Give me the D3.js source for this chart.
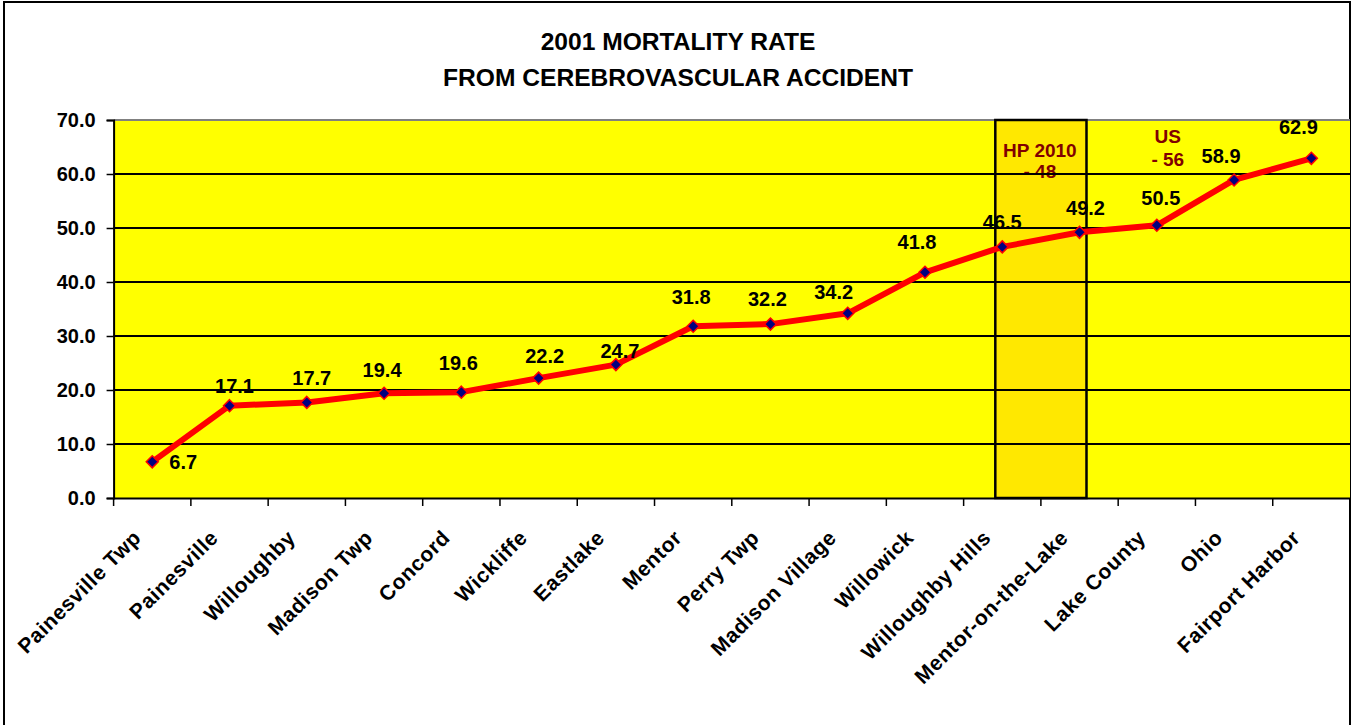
<!DOCTYPE html>
<html>
<head>
<meta charset="utf-8">
<script src="https://cdn.jsdelivr.net/npm/d3@7"></script>
<style>
  html, body { margin: 0; padding: 0; background: #ffffff; }
  svg { display: block; font-family: Arial, "Liberation Sans", sans-serif; }
</style>
</head>
<body>
<svg id="chart" width="1352" height="725"></svg>
<script>
// ---- data ----
const titleLines = ["2001 MORTALITY RATE", "FROM CEREBROVASCULAR ACCIDENT"];
const categories = ["Painesville Twp", "Painesville", "Willoughby", "Madison Twp", "Concord",
  "Wickliffe", "Eastlake", "Mentor", "Perry Twp", "Madison Village", "Willowick",
  "Willoughby Hills", "Mentor-on-the-Lake", "Lake County", "Ohio", "Fairport Harbor"];
const rates = [6.7, 17.1, 17.7, 19.4, 19.6, 22.2, 24.7, 31.8, 32.2, 34.2, 41.8, 46.5, 49.2, 50.5, 58.9, 62.9];
const yTicks = [0, 10, 20, 30, 40, 50, 60, 70];
const hpLabel = ["HP 2010", "- 48"];
const usLabel = ["US", "- 56"];

// ---- layout / style (not data) ----
const W = 1352, H = 725;
const plot = { left: 113.6, right: 1350, top: 120, bottom: 498 };
// manual label nudges [dx, dy(baseline from point)]
const labelNudge = [[31, 7], [5, -13], [5, -17], [-2, -16], [-3, -22], [6, -15], [4, -7], [-2, -22],
  [-3, -18], [-14, -14], [-8, -23], [0, -18], [6, -17], [4, -20], [-13, -17], [-13, -24]];

const svg = d3.select("#chart");

const x = d3.scaleBand().domain(categories).range([plot.left, plot.right]).padding(0);
const y = d3.scaleLinear().domain([0, 70]).range([plot.bottom, plot.top]);
const bw = x.bandwidth();
const cx = d => x(d) + bw / 2;

// outer border
svg.append("rect").attr("x", 4).attr("y", 2).attr("width", 1346).attr("height", 740)
  .attr("fill", "#ffffff").attr("stroke", "#000").attr("stroke-width", 2);

// title
svg.append("g").selectAll("text").data(titleLines).join("text")
  .attr("x", 678).attr("y", (d, i) => 50 + i * 36)
  .attr("text-anchor", "middle").attr("font-size", 24.6).attr("font-weight", "bold")
  .attr("fill", "#000").text(d => d);

// plot background
svg.append("rect").attr("x", plot.left).attr("y", plot.top)
  .attr("width", plot.right - plot.left).attr("height", plot.bottom - plot.top)
  .attr("fill", "#FFFF00");

// highlight box (HP 2010 target), centred on boundary between Willoughby Hills and Mentor-on-the-Lake
const boxCx = x(categories[12]);
const boxHalf = bw * 0.59;
svg.append("rect").attr("x", boxCx - boxHalf).attr("y", plot.top)
  .attr("width", boxHalf * 2).attr("height", plot.bottom - plot.top)
  .attr("fill", "#FFE800");

// annotation texts
svg.append("g").selectAll("text").data(hpLabel).join("text")
  .attr("x", boxCx - 1).attr("y", (d, i) => 157 + i * 21)
  .attr("text-anchor", "middle").attr("font-size", 19).attr("font-weight", "bold")
  .attr("fill", "#800000").text(d => d);
svg.append("g").selectAll("text").data(usLabel).join("text")
  .attr("x", cx(categories[13]) + 11).attr("y", (d, i) => 143 + i * 23)
  .attr("text-anchor", "middle").attr("font-size", 19).attr("font-weight", "bold")
  .attr("fill", "#800000").text(d => d);

// gridlines
svg.append("g").selectAll("line").data(yTicks.filter(t => t > 0 && t < 70)).join("line")
  .attr("x1", plot.left).attr("x2", plot.right)
  .attr("y1", d => y(d)).attr("y2", d => y(d))
  .attr("stroke", "#000").attr("stroke-width", 1.8);

// top plot border (gray)
svg.append("line").attr("x1", plot.left).attr("x2", plot.right)
  .attr("y1", plot.top).attr("y2", plot.top)
  .attr("stroke", "#808080").attr("stroke-width", 2);

// highlight box border
svg.append("rect").attr("x", boxCx - boxHalf).attr("y", plot.top)
  .attr("width", boxHalf * 2).attr("height", plot.bottom - plot.top)
  .attr("fill", "none").attr("stroke", "#000").attr("stroke-width", 2.5);

// y axis
const yAxis = svg.append("g").attr("transform", `translate(${plot.left},0)`)
  .call(d3.axisLeft(y).tickValues(yTicks).tickFormat(d3.format(".1f")).tickSize(7).tickPadding(11));
yAxis.select(".domain").attr("stroke", "#000").attr("stroke-width", 2);
yAxis.selectAll(".tick line").attr("stroke", "#000").attr("stroke-width", 1.5);
yAxis.selectAll(".tick text").attr("font-size", 20).attr("font-weight", "bold")
  .attr("fill", "#000").attr("font-family", "Arial, 'Liberation Sans', sans-serif");

// x axis
const xAxis = svg.append("g").attr("transform", `translate(0,${plot.bottom})`)
  .call(d3.axisBottom(x).tickSize(0).tickPadding(0));
xAxis.select(".domain").attr("stroke", "#000").attr("stroke-width", 2);
xAxis.selectAll(".tick text")
  .attr("font-size", 21).attr("font-weight", "bold").attr("fill", "#000")
  .attr("font-family", "Arial, 'Liberation Sans', sans-serif")
  .attr("letter-spacing", "0.6px")
  .attr("text-anchor", "end").attr("dy", 0).attr("y", 0)
  .attr("transform", "translate(-10,41) rotate(-45)");
// boundary tick marks
svg.append("g").selectAll("line").data(d3.range(categories.length + 1)).join("line")
  .attr("x1", i => plot.left + i * bw).attr("x2", i => plot.left + i * bw)
  .attr("y1", plot.bottom).attr("y2", plot.bottom + 8)
  .attr("stroke", "#000").attr("stroke-width", 1.5);

// line
const line = d3.line().x((d, i) => cx(categories[i])).y(d => y(d));
svg.append("path").datum(rates).attr("d", line)
  .attr("fill", "none").attr("stroke", "#FF0000").attr("stroke-width", 6)
  .attr("stroke-linejoin", "round");

// markers
svg.append("g").selectAll("path").data(rates).join("path")
  .attr("transform", (d, i) => `translate(${cx(categories[i])},${y(d)})`)
  .attr("d", "M0,-6L6,0L0,6L-6,0Z")
  .attr("fill", "#000080").attr("stroke", "#FF0000").attr("stroke-width", 1.5);

// data labels
svg.append("g").selectAll("text").data(rates).join("text")
  .attr("x", (d, i) => cx(categories[i]) + labelNudge[i][0])
  .attr("y", (d, i) => y(d) + labelNudge[i][1])
  .attr("text-anchor", "middle").attr("font-size", 20).attr("font-weight", "bold")
  .attr("fill", "#000").text(d => d.toFixed(1));
</script>
</body>
</html>
